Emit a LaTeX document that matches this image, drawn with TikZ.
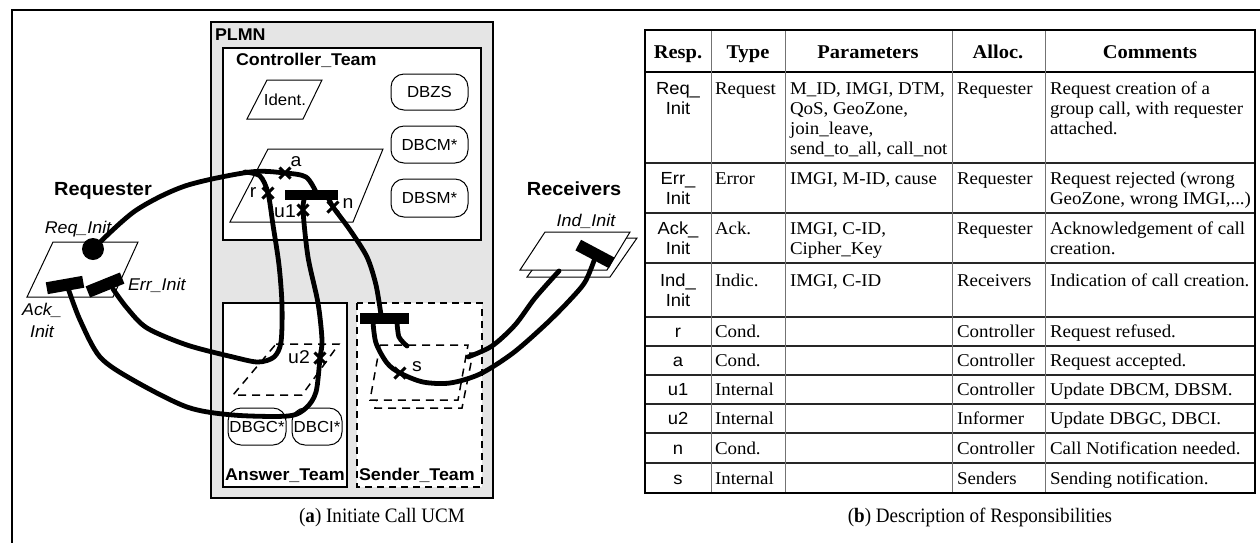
\documentclass[tikz,border=0pt]{standalone}
\usepackage{fontspec}
\setmainfont{Liberation Serif}[FakeStretch=1.05]
\newfontfamily\arialfam{Liberation Sans}[FakeStretch=1.05]
\newfontfamily\capfam{Liberation Serif}[FakeStretch=0.93]
\usetikzlibrary{shapes.misc}

\newcommand\teamfont{\arialfam\bfseries\fontsize{17}{20}\selectfont}
\newcommand\rolefont{\arialfam\bfseries\fontsize{19}{22}\selectfont}
\newcommand\evfont{\arialfam\itshape\fontsize{17}{20}\selectfont}
\newcommand\dbfont{\arialfam\fontsize{16}{18}\selectfont}
\newcommand\rfont{\arialfam\fontsize{18.5}{20}\selectfont}
\newcommand\tabfont{\fontsize{18}{20}\selectfont}
\newcommand\tabhead{\bfseries\fontsize{19.5}{22}\selectfont}
\newcommand\respfont{\arialfam\fontsize{17.5}{20}\selectfont}
\newcommand\capfont{\capfam\fontsize{20.5}{24}\selectfont}
\newcommand\threedots{...}

% one table cell: name prefix, x, first baseline, list of lines
\newcommand\celltext[4]{%
  \foreach \ln [count=\k] in {#4}
    \node[cellt] (#1-\k) at (#2,{#3+20*(\k-1)}) {\ln};}
\newcommand\resptext[4]{%
  \foreach \ln [count=\k] in {#4}
    \node[respt] (#1-\k) at (#2,{#3+20*(\k-1)}) {\ln};}

\begin{document}
\begin{tikzpicture}[x=1pt, y=-1pt,
  every node/.style={inner sep=0pt, outer sep=0pt},
  teambox/.style={draw, line width=1.5pt, fill=white},
  sendbox/.style={draw, line width=1.5pt, fill=white, dash pattern=on 7pt off 5pt},
  comp/.style={draw, line width=1pt, fill=white},
  dyn/.style={draw, line width=1.5pt, dash pattern=on 8pt off 6pt},
  db/.style={draw, line width=1pt, rounded corners=13pt, fill=white, font=\dbfont},
  ucm/.style={line width=4.8pt, line join=round, line cap=round},
  bar/.style={fill=black, rectangle},
  respx/.style={cross out, draw, line width=3pt, minimum size=11pt},
  rlab/.style={font=\rfont},
  teamlab/.style={font=\teamfont, anchor=base west},
  rolelab/.style={font=\rolefont, anchor=base},
  evlab/.style={font=\evfont, anchor=base},
  cellt/.style={font=\tabfont, anchor=base west},
  respt/.style={font=\respfont, anchor=base},
  tabrule/.style={line width=1.2pt, black!85},
  tabvrule/.style={line width=1pt, black!55}
]
\useasboundingbox (0,0) rectangle (1260,542);
\fill[white] (0,0) rectangle (1260,542);
\draw[line width=2pt] (12,548) -- (12,10) -- (1266,10);

% ---------------- (a) use case map ----------------
\draw[line width=2pt, fill=black!10] (211,22) rectangle (493,498);
\node[teamlab] (plmnlab) at (215,40) {PLMN};

\draw[teambox] (223,48) rectangle (481,240);
\node[teamlab] (ctlab) at (236,65) {Controller\_Team};
\draw[teambox] (223,303) rectangle (347,487);
\node[teamlab] (atlab) at (225,480) {Answer\_Team};
\draw[sendbox] (357,303) rectangle (482,487);
\node[teamlab] (stlab) at (359,480) {Sender\_Team};

% controller components
\draw[comp] (267,80) -- (322,80) -- (303,119) -- (247,119) -- cycle;
\node[font=\dbfont] (ident) at (285,100) {Ident.};
\node[db, minimum width=77pt, minimum height=36pt] (dbzs) at (429.5,92) {DBZS};
\node[db, minimum width=77pt, minimum height=37pt] (dbcm) at (429.5,144.5) {DBCM*};
\node[db, minimum width=77pt, minimum height=38pt] (dbsm) at (429.5,198) {DBSM*};
\draw[comp] (268,149) -- (383,149) -- (353,222) -- (230,222) -- cycle;

% answer team components
\node[db, minimum width=58pt, minimum height=37pt] (dbgc) at (257,426.5) {DBGC*};
\node[db, minimum width=50pt, minimum height=37pt] (dbci) at (317,426.5) {DBCI*};
\draw[dyn] (276,344) -- (339,344) -- (302,395) -- (233,395) -- cycle;

% sender team dynamic stub
\draw[dyn, fill=white] (385,353) -- (473,353) -- (462,408) -- (375,408) -- cycle;
\draw[dyn, fill=white] (380,345) -- (468,345) -- (458,400) -- (370,400) -- cycle;

% requester and receivers
\draw[comp] (53,242) -- (138,242) -- (113,297) -- (27,297) -- cycle;
\draw[comp] (556,238) -- (637,238) -- (610,277) -- (527,277) -- cycle;
\draw[comp] (545,232) -- (630,232) -- (607,270) -- (520,270) -- cycle;

% start point, fork points and responsibilities
\node[circle, fill=black, minimum size=22pt] (start) at (93,249) {};
\coordinate (stubin) at (407,346);
\coordinate (stubout) at (468,357);
\coordinate (plateend) at (559,271);

\node[respx] (xa) at (285,173) {};
\node[respx] (xr) at (268,193) {};
\node[respx] (xu1) at (303,210) {};
\node[respx] (xn) at (333,207) {};
\node[respx] (xu2) at (320,358) {};
\node[respx] (xs) at (400,373) {};

% paths
\draw[ucm] plot[smooth] coordinates {(start) (135,211) (185,186) (250,172) (xa) (306,177) (316,192)};
\draw[ucm] plot[smooth] coordinates {(245,172) (260,176) (xr) (273,225) (279,265) (282,305) (281,342) (274,357) (258,362) (233,357) (187,345) (147,328) (127,308) (113,289)};
\draw[ucm] plot[smooth] coordinates {(305,197) (xu1) (308,257) (318,303) (322,340) (xu2) (316,392) (306,408) (288,416) (233,415) (187,407) (133,380) (100,357) (80,320) (68,288)};
\draw[ucm] plot[smooth] coordinates {(328,197) (xn) (350,230) (367,257) (376,285) (381,315)};
\draw[ucm] plot[smooth] coordinates {(373,322) (376,343) (387,363) (xs) (423,382) (450,383) (480,374) (513,353) (545,325) (568,302) (585,282) (595,258)};
\draw[ucm] plot[smooth] coordinates {(397,322) (399,337) (stubin)};
\draw[ucm] plot[smooth] coordinates {(stubout) (492,346) (515,325) (535,298) (plateend)};

% forks and end bars above the paths
\node[bar, minimum width=53pt, minimum height=10pt] (fork) at (311.5,194.5) {};
\node[bar, minimum width=49pt, minimum height=11pt] (sfork) at (384.5,318.5) {};
\node[bar, minimum width=37pt, minimum height=12pt, rotate=10] (ackend) at (65,285) {};
\node[bar, minimum width=37pt, minimum height=12pt, rotate=22] (errend) at (105,285) {};
\node[bar, minimum width=38pt, minimum height=12pt, rotate=-28] (indend) at (595,254) {};

% responsibility labels
\node[rlab] (la) at (296,162) {a};
\node[rlab] (lr) at (253,193) {r};
\node[rlab] (lu1) at (285,211) {u1};
\node[rlab] (ln) at (348,204) {n};
\node[rlab] (lu2) at (299,357) {u2};
\node[rlab] (ls) at (417,367) {s};

% component labels
\node[rolelab] (reqlab) at (103,195) {Requester};
\node[rolelab] (reclab) at (574,195) {Receivers};
\node[evlab] (reqinit) at (78,233) {Req\_Init};
\node[evlab, anchor=base west] (errinit) at (128,290) {Err\_Init};
\node[evlab] (ackinit1) at (42,315) {Ack\_};
\node[evlab] (ackinit2) at (42,337) {Init};
\node[evlab] (indinit) at (586,226) {Ind\_Init};

\node[font=\capfont, anchor=base] (capa) at (382,522) {(\textbf{a}) Initiate Call UCM};

% ---------------- (b) responsibility table ----------------
\foreach \y in {163,213,263,317,346,375,404,433,463}
  \draw[tabrule] (645,\y) -- (1255,\y);
\draw[line width=1.5pt] (645,72) -- (1255,72);
\foreach \x in {711,785,952,1045}
  \draw[tabvrule] (\x,30) -- (\x,493);
\draw[line width=2.7pt] (645,30) rectangle (1255,493);

\node[font=\tabhead, anchor=base] (h1) at (678,58) {Resp.};
\node[font=\tabhead, anchor=base] (h2) at (748,58) {Type};
\node[font=\tabhead, anchor=base] (h3) at (868,58) {Parameters};
\node[font=\tabhead, anchor=base] (h4) at (998,58) {Alloc.};
\node[font=\tabhead, anchor=base] (h5) at (1150,58) {Comments};

\resptext{r1}{678}{94}{Req\_,Init}
\celltext{t1}{715}{94}{Request}
\celltext{p1}{790}{94}{{M\_ID, IMGI, DTM,},{QoS, GeoZone,},{join\_leave,},{send\_to\_all, call\_not}}
\celltext{a1}{957}{94}{Requester}
\celltext{c1}{1050}{94}{{Request creation of a},{group call, with requester},{attached.}}

\resptext{r2}{678}{184}{Err\_,Init}
\celltext{t2}{715}{184}{Error}
\celltext{p2}{790}{184}{{IMGI, M-ID, cause}}
\celltext{a2}{957}{184}{Requester}
\celltext{c2}{1050}{184}{{Request rejected (wrong},{GeoZone, wrong IMGI,\threedots)}}

\resptext{r3}{678}{234}{Ack\_,Init}
\celltext{t3}{715}{234}{Ack.}
\celltext{p3}{790}{234}{{IMGI, C-ID,},{Cipher\_Key}}
\celltext{a3}{957}{234}{Requester}
\celltext{c3}{1050}{234}{{Acknowledgement of call},{creation.}}

\resptext{r4}{678}{286}{Ind\_,Init}
\celltext{t4}{715}{286}{Indic.}
\celltext{p4}{790}{286}{{IMGI, C-ID}}
\celltext{a4}{957}{286}{Receivers}
\celltext{c4}{1050}{286}{{Indication of call creation.}}

\resptext{r5}{678}{337.5}{r}
\celltext{t5}{715}{337.5}{Cond.}
\celltext{a5}{957}{337.5}{Controller}
\celltext{c5}{1050}{337.5}{{Request refused.}}

\resptext{r6}{678}{366.5}{a}
\celltext{t6}{715}{366.5}{Cond.}
\celltext{a6}{957}{366.5}{Controller}
\celltext{c6}{1050}{366.5}{{Request accepted.}}

\resptext{r7}{678}{395.5}{u1}
\celltext{t7}{715}{395.5}{Internal}
\celltext{a7}{957}{395.5}{Controller}
\celltext{c7}{1050}{395.5}{{Update DBCM, DBSM.}}

\resptext{r8}{678}{424.5}{u2}
\celltext{t8}{715}{424.5}{Internal}
\celltext{a8}{957}{424.5}{Informer}
\celltext{c8}{1050}{424.5}{{Update DBGC, DBCI.}}

\resptext{r9}{678}{454}{n}
\celltext{t9}{715}{454}{Cond.}
\celltext{a9}{957}{454}{Controller}
\celltext{c9}{1050}{454}{{Call Notification needed.}}

\resptext{r10}{678}{484}{s}
\celltext{t10}{715}{484}{Internal}
\celltext{a10}{957}{484}{Senders}
\celltext{c10}{1050}{484}{{Sending notification.}}

\node[font=\capfont, anchor=base] (capb) at (980,522) {(\textbf{b}) Description of Responsibilities};
\end{tikzpicture}
\end{document}
